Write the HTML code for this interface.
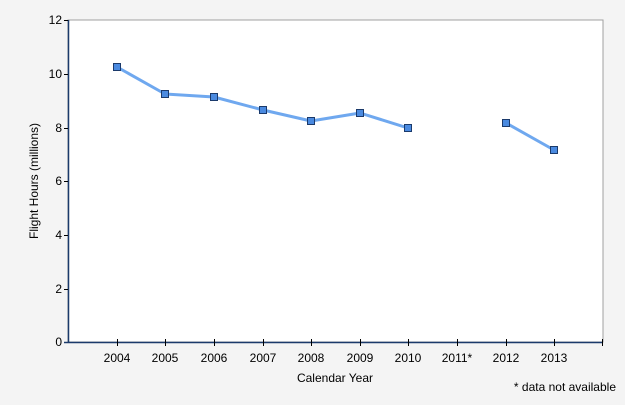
<!DOCTYPE html><html><head><style>body{margin:0;background:#f4f4f4}</style></head><body>
<svg width="625" height="400" xmlns="http://www.w3.org/2000/svg" font-family="Liberation Sans, sans-serif" font-size="12">
<rect x="0" y="0" width="625" height="400" fill="#f4f4f4"/>
<rect x="68" y="20" width="535" height="322" fill="#fff" stroke="#a0a0a0" stroke-width="1"/>
<line x1="68.5" y1="20" x2="68.5" y2="342" stroke="#1b3a6b" stroke-width="1.5"/>
<line x1="64" y1="342.5" x2="603" y2="342.5" stroke="#1b3a6b" stroke-width="1.5"/>
<g stroke="#000"><line x1="64" y1="20.5" x2="68" y2="20.5"/><line x1="64" y1="74.5" x2="68" y2="74.5"/><line x1="64" y1="128.5" x2="68" y2="128.5"/><line x1="64" y1="181.5" x2="68" y2="181.5"/><line x1="64" y1="235.5" x2="68" y2="235.5"/><line x1="64" y1="289.5" x2="68" y2="289.5"/>
<line x1="117.5" y1="339" x2="117.5" y2="346"/><line x1="165.5" y1="339" x2="165.5" y2="346"/><line x1="214.5" y1="339" x2="214.5" y2="346"/><line x1="263.5" y1="339" x2="263.5" y2="346"/><line x1="311.5" y1="339" x2="311.5" y2="346"/><line x1="360.5" y1="339" x2="360.5" y2="346"/><line x1="408.5" y1="339" x2="408.5" y2="346"/><line x1="457.5" y1="339" x2="457.5" y2="346"/><line x1="506.5" y1="339" x2="506.5" y2="346"/><line x1="554.5" y1="339" x2="554.5" y2="346"/><line x1="602.5" y1="339" x2="602.5" y2="346"/></g>
<g text-anchor="end" fill="#000"><text x="62" y="24">12</text><text x="62" y="78">10</text><text x="62" y="132">8</text><text x="62" y="185">6</text><text x="62" y="239">4</text><text x="62" y="293">2</text><text x="62" y="346">0</text></g>
<g text-anchor="middle" fill="#000"><text x="117" y="362">2004</text><text x="165" y="362">2005</text><text x="214" y="362">2006</text><text x="263" y="362">2007</text><text x="311" y="362">2008</text><text x="360" y="362">2009</text><text x="408" y="362">2010</text><text x="457" y="362">2011*</text><text x="506" y="362">2012</text><text x="554" y="362">2013</text>
<text x="335" y="382">Calendar Year</text>
<text transform="translate(38,181) rotate(-90)">Flight Hours (millions)</text></g>
<text x="616" y="391" text-anchor="end" fill="#000">* data not available</text>
<g fill="none" stroke="#6fa8ef" stroke-width="3" stroke-linejoin="round"><polyline points="117,67 165,94 214,97 263,110 311,121 360,113 408,128"/><polyline points="506,123 554,150"/></g>
<g fill="#4a8ae0" stroke="#1b3a6b" stroke-width="1"><rect x="113.5" y="63.5" width="7" height="7"/><rect x="161.5" y="90.5" width="7" height="7"/><rect x="210.5" y="93.5" width="7" height="7"/><rect x="259.5" y="106.5" width="7" height="7"/><rect x="307.5" y="117.5" width="7" height="7"/><rect x="356.5" y="109.5" width="7" height="7"/><rect x="404.5" y="124.5" width="7" height="7"/><rect x="502.5" y="119.5" width="7" height="7"/><rect x="550.5" y="146.5" width="7" height="7"/></g>
</svg></body></html>
